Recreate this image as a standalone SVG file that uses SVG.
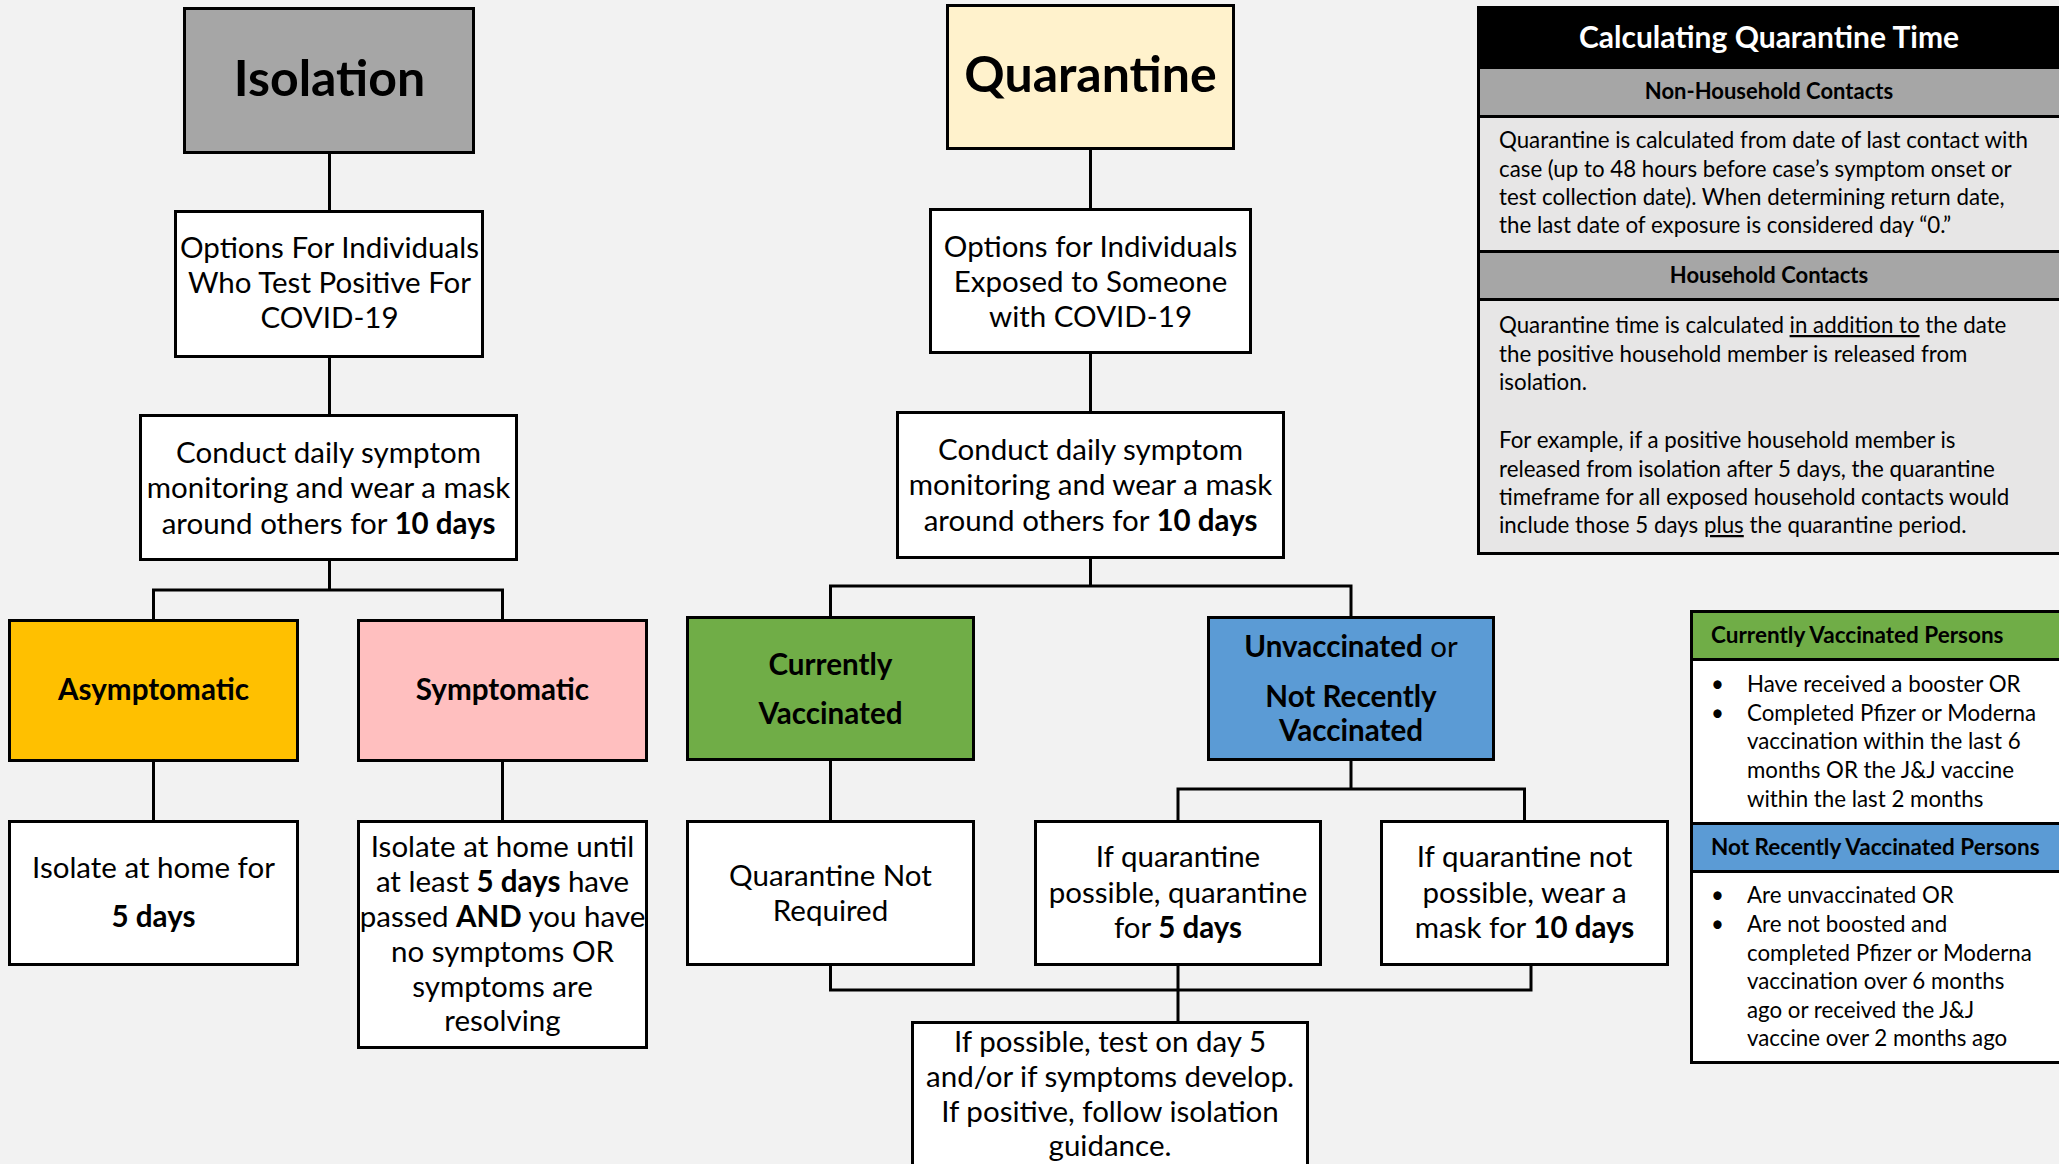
<svg xmlns="http://www.w3.org/2000/svg" width="2059" height="1164" viewBox="0 0 2059 1164">
<style>
.bx{stroke:#000;stroke-width:3}
.ln{stroke:#000;stroke-width:3;fill:none}
.t{font-family:Lato,"Liberation Sans",sans-serif;font-size:29.5px;fill:#000;text-anchor:middle}
.tb{font-family:Lato,"Liberation Sans",sans-serif;font-size:29.6px;font-weight:bold;fill:#000;text-anchor:middle}
.b{font-weight:bold}
.big{font-family:Lato,"Liberation Sans",sans-serif;font-size:50px;font-weight:bold;fill:#000;text-anchor:middle}
.p{font-family:Lato,"Liberation Sans",sans-serif;font-size:22.3px;fill:#000}
.ph{font-family:Lato,"Liberation Sans",sans-serif;font-size:22px;font-weight:bold;fill:#000}
</style>
<rect width="2059" height="1164" fill="#f2f2f2"/>
<g id="connectors">
<path class="ln" d="M329.5 153V211M329.5 357V415M329.5 559V590M153.5 620V590H502.5V620M153.5 760V821M502.5 760V821"/>
<path class="ln" d="M1090.5 148V209M1090.5 352V412M1090.5 557V586M830.5 617V586H1351V617M830.5 759V821M1351 759V789M1178 821V789H1524.5V821M830.5 964V990H1531V964M1178 964V1022"/>
</g>
<g id="isolation">
<rect class="bx" x="184.5" y="8.5" width="289" height="144" fill="#a6a6a6"/>
<text class="big" x="329.5" y="96">Isolation</text>
</g>
<g id="iso-options">
<rect class="bx" x="175.5" y="211.5" width="307" height="145" fill="#fff"/>
<text class="t" x="329.5" y="258">Options For Individuals</text>
<text class="t" x="329.5" y="293">Who Test Positive For</text>
<text class="t" x="329.5" y="328">COVID-19</text>
</g>
<g id="iso-monitor">
<rect class="bx" x="140.5" y="415.5" width="376" height="144" fill="#fff"/>
<text class="t" x="328.5" y="463">Conduct daily symptom</text>
<text class="t" x="328.5" y="498">monitoring and wear a mask</text>
<text class="t" x="328.5" y="534">around others for <tspan class="b">10 days</tspan></text>
</g>
<g id="asymptomatic">
<rect class="bx" x="9.5" y="620.5" width="288" height="140" fill="#ffc000"/>
<text class="tb" x="153.5" y="700">Asymptomatic</text>
</g>
<g id="symptomatic">
<rect class="bx" x="358.5" y="620.5" width="288" height="140" fill="#ffbfbf"/>
<text class="tb" x="502.5" y="700">Symptomatic</text>
</g>
<g id="asym-action">
<rect class="bx" x="9.5" y="821.5" width="288" height="143" fill="#fff"/>
<text class="t" x="153.5" y="878">Isolate at home for</text>
<text class="tb" x="153.5" y="927">5 days</text>
</g>
<g id="sym-action">
<rect class="bx" x="358.5" y="821.5" width="288" height="226" fill="#fff"/>
<text class="t" x="502.5" y="857">Isolate at home until</text>
<text class="t" x="502.5" y="892">at least <tspan class="b">5 days</tspan> have</text>
<text class="t" x="502.5" y="927">passed <tspan class="b">AND</tspan> you have</text>
<text class="t" x="502.5" y="962">no symptoms OR</text>
<text class="t" x="502.5" y="997">symptoms are</text>
<text class="t" x="502.5" y="1031">resolving</text>
</g>
<g id="quarantine">
<rect class="bx" x="947.5" y="5.5" width="286" height="143" fill="#fff2cc"/>
<text class="big" x="1090.5" y="92">Quarantine</text>
</g>
<g id="q-options">
<rect class="bx" x="930.5" y="209.5" width="320" height="143" fill="#fff"/>
<text class="t" x="1090.5" y="257">Options for Individuals</text>
<text class="t" x="1090.5" y="292">Exposed to Someone</text>
<text class="t" x="1090.5" y="327">with COVID-19</text>
</g>
<g id="q-monitor">
<rect class="bx" x="897.5" y="412.5" width="386" height="145" fill="#fff"/>
<text class="t" x="1090.5" y="460">Conduct daily symptom</text>
<text class="t" x="1090.5" y="495">monitoring and wear a mask</text>
<text class="t" x="1090.5" y="531">around others for <tspan class="b">10 days</tspan></text>
</g>
<g id="vaccinated">
<rect class="bx" x="687.5" y="617.5" width="286" height="142" fill="#70ad47"/>
<text class="tb" x="830.5" y="675">Currently</text>
<text class="tb" x="830.5" y="724">Vaccinated</text>
</g>
<g id="unvaccinated">
<rect class="bx" x="1208.5" y="617.5" width="285" height="142" fill="#5b9bd5"/>
<text class="t" x="1351" y="657"><tspan class="b">Unvaccinated</tspan> or</text>
<text class="tb" x="1351" y="707">Not Recently</text>
<text class="tb" x="1351" y="741">Vaccinated</text>
</g>
<g id="not-required">
<rect class="bx" x="687.5" y="821.5" width="286" height="143" fill="#fff"/>
<text class="t" x="830.5" y="886">Quarantine Not</text>
<text class="t" x="830.5" y="921">Required</text>
</g>
<g id="q-possible">
<rect class="bx" x="1035.5" y="821.5" width="285" height="143" fill="#fff"/>
<text class="t" x="1178" y="867">If quarantine</text>
<text class="t" x="1178" y="903">possible, quarantine</text>
<text class="t" x="1178" y="938">for <tspan class="b">5 days</tspan></text>
</g>
<g id="q-not-possible">
<rect class="bx" x="1381.5" y="821.5" width="286" height="143" fill="#fff"/>
<text class="t" x="1524.5" y="867">If quarantine not</text>
<text class="t" x="1524.5" y="903">possible, wear a</text>
<text class="t" x="1524.5" y="938">mask for <tspan class="b">10 days</tspan></text>
</g>
<g id="test">
<rect class="bx" x="912.5" y="1022.5" width="395" height="160" fill="#fff"/>
<text class="t" x="1110" y="1052">If possible, test on day 5</text>
<text class="t" x="1110" y="1087">and/or if symptoms develop.</text>
<text class="t" x="1110" y="1122">If positive, follow isolation</text>
<text class="t" x="1110" y="1156">guidance.</text>
</g>
<g id="calc-panel">
<rect class="bx" x="1478.5" y="7.5" width="600" height="60" fill="#000"/>
<rect class="bx" x="1478.5" y="67.5" width="600" height="49" fill="#a6a6a6"/>
<rect class="bx" x="1478.5" y="116.5" width="600" height="135" fill="#e7e6e6"/>
<rect class="bx" x="1478.5" y="251.5" width="600" height="48" fill="#a6a6a6"/>
<rect class="bx" x="1478.5" y="299.5" width="600" height="254" fill="#e7e6e6"/>
<text x="1769" y="48" text-anchor="middle" style="font-family:Lato,'Liberation Sans',sans-serif;font-size:30px;font-weight:bold;fill:#fff">Calculating Quarantine Time</text>
<text class="ph" x="1769" y="99" text-anchor="middle">Non-Household Contacts</text>
<text class="p" x="1499" y="148">Quarantine is calculated from date of last contact with</text>
<text class="p" x="1499" y="177">case (up to 48 hours before case’s symptom onset or</text>
<text class="p" x="1499" y="205">test collection date).  When determining return date,</text>
<text class="p" x="1499" y="233">the last date of exposure is considered day “0.”</text>
<text class="ph" x="1769" y="283" text-anchor="middle">Household Contacts</text>
<text class="p" x="1499" y="333">Quarantine time is calculated <tspan text-decoration="underline">in addition to</tspan> the date</text>
<text class="p" x="1499" y="362">the positive household member is released from</text>
<text class="p" x="1499" y="390">isolation.</text>
<text class="p" x="1499" y="448">For example, if a positive household member is</text>
<text class="p" x="1499" y="477">released from isolation after 5 days, the quarantine</text>
<text class="p" x="1499" y="505">timeframe for all exposed household contacts would</text>
<text class="p" x="1499" y="533">include those 5 days <tspan text-decoration="underline">plus</tspan> the quarantine period.</text>
</g>
<g id="vacc-panel">
<rect class="bx" x="1691.5" y="611.5" width="380" height="48" fill="#70ad47"/>
<rect class="bx" x="1691.5" y="659.5" width="380" height="164" fill="#fff"/>
<rect class="bx" x="1691.5" y="823.5" width="380" height="48" fill="#5b9bd5"/>
<rect class="bx" x="1691.5" y="871.5" width="380" height="191" fill="#fff"/>
<text class="ph" x="1711" y="643" style="font-size:22.5px">Currently Vaccinated Persons</text>
<text class="p" x="1711" y="692">•</text><text class="p" x="1747" y="692">Have received a booster OR</text>
<text class="p" x="1711" y="721">•</text><text class="p" x="1747" y="721">Completed Pfizer or Moderna</text>
<text class="p" x="1747" y="749">vaccination within the last 6</text>
<text class="p" x="1747" y="778">months OR the J&amp;J vaccine</text>
<text class="p" x="1747" y="807">within the last 2 months</text>
<text class="ph" x="1711" y="855" style="font-size:22.5px">Not Recently Vaccinated Persons</text>
<text class="p" x="1711" y="903">•</text><text class="p" x="1747" y="903">Are unvaccinated OR</text>
<text class="p" x="1711" y="932">•</text><text class="p" x="1747" y="932">Are not boosted and</text>
<text class="p" x="1747" y="961">completed Pfizer or Moderna</text>
<text class="p" x="1747" y="989">vaccination over 6 months</text>
<text class="p" x="1747" y="1018">ago or received the J&amp;J</text>
<text class="p" x="1747" y="1046">vaccine over 2 months ago</text>
</g>
</svg>
